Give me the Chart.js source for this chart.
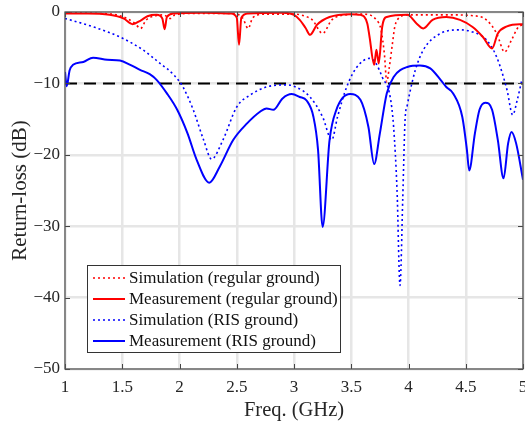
<!DOCTYPE html>
<html>
<head>
<meta charset="utf-8">
<script src="https://cdn.jsdelivr.net/npm/chart.js@4.4.0/dist/chart.umd.min.js"></script>
<style>
  html, body { margin: 0; padding: 0; background: #fff; }
  #wrap { width: 525px; height: 426px; }
</style>
</head>
<body>
<div id="wrap"><canvas id="grafico" width="525" height="426"></canvas></div>
<script>
// Simulation (regular ground)
const sRegF  = [1.0, 1.3, 1.45, 1.54, 1.61, 1.66, 1.71, 1.80, 1.86, 1.92, 1.96, 2.1, 2.45, 2.55, 2.60, 2.64, 2.75, 3.0, 3.10, 3.16, 3.25, 3.33, 3.45, 3.6, 3.72, 3.76, 3.79, 3.81, 3.83, 3.86, 3.88, 3.92, 4.0, 4.33, 4.55, 4.68, 4.77, 4.84, 4.90, 4.96, 5.0];
const sRegDb = [-0.1, -0.2, -0.4, -0.9, -1.6, -2.3, -1.1, -0.5, -0.4, -0.9, -0.4, -0.2, -0.2, -0.8, -2.3, -0.8, -0.3, -0.3, -0.6, -1.1, -3.0, -1.1, -0.4, -0.3, -1.1, -2.5, -6.0, -9.8, -8.0, -4.4, -2.1, -0.8, -0.4, -0.4, -0.5, -1.1, -3.0, -5.6, -3.9, -2.1, -1.8];

// Measurement (regular ground)
const mRegF  = [1.0, 1.2, 1.39, 1.51, 1.59, 1.66, 1.72, 1.80, 1.85, 1.87, 1.89, 1.95, 2.2, 2.45, 2.50, 2.52, 2.54, 2.60, 2.9, 3.0, 3.05, 3.10, 3.14, 3.20, 3.31, 3.49, 3.58, 3.64, 3.66, 3.70, 3.72, 3.74, 3.77, 3.81, 3.99, 4.07, 4.13, 4.21, 4.33, 4.45, 4.56, 4.65, 4.73, 4.78, 4.86, 4.97, 5.0];
const mRegDb = [-0.2, -0.2, -0.4, -0.9, -1.7, -1.2, -0.6, -0.4, -0.9, -2.4, -0.7, -0.2, -0.1, -0.2, -0.8, -4.6, -0.8, -0.2, -0.1, -0.4, -1.1, -2.2, -3.2, -1.8, -0.7, -0.3, -0.4, -1.6, -3.5, -7.4, -5.3, -7.2, -2.1, -0.7, -0.4, -1.6, -2.3, -1.1, -0.7, -1.1, -2.1, -3.5, -5.1, -3.0, -2.0, -1.7, -1.7];

// Simulation (RIS ground)
const sRisF  = [1.0, 1.25, 1.48, 1.68, 1.83, 1.95, 2.03, 2.12, 2.21, 2.28, 2.38, 2.50, 2.62, 2.76, 2.94, 3.0, 3.14, 3.25, 3.33, 3.38, 3.46, 3.55, 3.66, 3.72, 3.77, 3.84, 3.87, 3.90, 3.926, 3.95, 3.97, 3.99, 4.01, 4.06, 4.13, 4.28, 4.45, 4.56, 4.68, 4.77, 4.86, 4.91, 4.95, 4.99];
const sRisDb = [-0.9, -2.1, -3.5, -5.3, -7.2, -8.8, -10.5, -13.7, -17.9, -20.6, -17.9, -13.3, -11.6, -10.5, -10.2, -10.4, -11.9, -14.7, -17.9, -14.7, -10.5, -7.7, -6.5, -7.3, -9.1, -11.9, -16.1, -25.0, -38.3, -26.0, -15.1, -13.0, -11.4, -8.1, -5.3, -3.0, -2.5, -2.8, -3.9, -6.3, -10.9, -14.4, -12.3, -9.5];

// Measurement (RIS ground)
const mRisF  = [1.0, 1.015, 1.04, 1.07, 1.16, 1.245, 1.37, 1.48, 1.57, 1.655, 1.74, 1.80, 1.89, 1.98, 2.07, 2.15, 2.26, 2.35, 2.47, 2.59, 2.70, 2.76, 2.82, 2.90, 2.98, 3.05, 3.11, 3.17, 3.21, 3.25, 3.31, 3.37, 3.49, 3.58, 3.65, 3.70, 3.75, 3.81, 3.87, 3.99, 4.10, 4.19, 4.28, 4.33, 4.39, 4.47, 4.51, 4.53, 4.58, 4.62, 4.67, 4.73, 4.78, 4.83, 4.87, 4.90, 4.94, 5.0];
const mRisDb = [-8.4, -10.4, -8.2, -7.4, -7.0, -6.4, -6.7, -6.8, -7.4, -8.1, -8.7, -9.5, -11.4, -13.7, -17.0, -20.7, -23.9, -21.7, -17.9, -15.6, -14.0, -13.5, -13.7, -12.1, -11.5, -11.9, -12.4, -14.7, -19.3, -30.1, -18.0, -13.7, -11.5, -12.3, -16.1, -21.3, -17.0, -11.4, -9.1, -7.7, -7.5, -7.9, -9.5, -10.5, -11.4, -14.7, -19.3, -22.2, -17.0, -13.7, -12.7, -13.7, -17.9, -23.3, -18.4, -16.8, -18.4, -23.5];

// linha de -10 dB
const limiteF  = [1, 5];
const limiteDb = [-10, -10];

const xTicks = [1, 1.5, 2, 2.5, 3, 3.5, 4, 4.5, 5];
const yTicks = [0, -10, -20, -30, -40, -50];

Chart.defaults.font.family = "'Liberation Serif', 'Times New Roman', serif";
Chart.defaults.color = '#262626';

function pontos(f, db) {
    let out = [];
    for (let i = 0; i < f.length; i++) {
        out.push({ x: f[i], y: db[i] });
    }
    return out;
}

function serie(label, f, db, cor, pontilhado) {
    return {
        label: label,
        data: pontos(f, db),
        borderColor: cor,
        backgroundColor: cor,
        borderWidth: pontilhado ? 1.6 : 2,
        borderDash: pontilhado ? [2, 3] : [],
        pointRadius: 0,
        cubicInterpolationMode: 'monotone',
        fill: false
    };
}

// ticks pra dentro + moldura
const moldura = {
    id: 'moldura',
    afterDraw(chart) {
        const c = chart.ctx;
        const a = chart.chartArea;
        const sx = chart.scales.x;
        const sy = chart.scales.y;
        c.save();
        c.strokeStyle = '#444';
        c.lineWidth = 1;
        c.beginPath();
        xTicks.forEach(v => {
            const px = Math.round(sx.getPixelForValue(v)) + 0.5;
            c.moveTo(px, a.bottom); c.lineTo(px, a.bottom - 5);
            c.moveTo(px, a.top); c.lineTo(px, a.top + 5);
        });
        yTicks.forEach(v => {
            const py = Math.round(sy.getPixelForValue(v)) + 0.5;
            c.moveTo(a.left, py); c.lineTo(a.left + 5, py);
            c.moveTo(a.right, py); c.lineTo(a.right - 5, py);
        });
        c.stroke();
        c.strokeStyle = '#555';
        c.lineWidth = 1.3;
        c.strokeRect(a.left, a.top, a.right - a.left, a.bottom - a.top);
        c.restore();
    }
};

// legenda dentro do grafico
const legenda = {
    id: 'legenda',
    afterDraw(chart) {
        const c = chart.ctx;
        const a = chart.chartArea;
        const bx = a.left + 22, by = a.bottom - 104, bw = 253, bh = 87;
        c.save();
        c.fillStyle = '#fff';
        c.fillRect(bx, by, bw, bh);
        c.strokeStyle = '#333';
        c.lineWidth = 1;
        c.strokeRect(bx + 0.5, by + 0.5, bw, bh);
        c.font = "17px 'Liberation Serif', serif";
        c.textBaseline = 'middle';
        for (let i = 0; i < 4; i++) {
            const ds = chart.data.datasets[i];
            const yy = by + 13 + i * 21;
            c.strokeStyle = ds.borderColor;
            c.lineWidth = ds.borderWidth;
            c.setLineDash(ds.borderDash);
            c.beginPath();
            c.moveTo(bx + 6, yy);
            c.lineTo(bx + 38, yy);
            c.stroke();
            c.setLineDash([]);
            c.fillStyle = '#111';
            c.fillText(ds.label, bx + 42, yy + 1);
        }
        c.restore();
    }
};

const ctx = document.getElementById('grafico');
new Chart(ctx, {
    type: 'line',
    data: {
        datasets: [
            serie('Simulation (regular ground)', sRegF, sRegDb, '#ff0000', true),
            serie('Measurement (regular ground)', mRegF, mRegDb, '#ff0000', false),
            serie('Simulation (RIS ground)', sRisF, sRisDb, '#0000ff', true),
            serie('Measurement (RIS ground)', mRisF, mRisDb, '#0000ff', false),
            {
                label: 'limite',
                data: pontos(limiteF, limiteDb),
                borderColor: '#000',
                borderWidth: 2,
                borderDash: [12, 7],
                pointRadius: 0,
                fill: false
            }
        ]
    },
    options: {
        responsive: false,
        animation: false,
        layout: { padding: { top: 12, right: 2, left: 0, bottom: 0 } },
        plugins: {
            legend: { display: false },
            tooltip: { enabled: false }
        },
        scales: {
            x: {
                type: 'linear',
                min: 1,
                max: 5,
                afterBuildTicks: s => { s.ticks = xTicks.map(v => ({ value: v })); },
                afterFit: s => { s.height = 57; s.paddingLeft = 0; s.paddingRight = 0; },
                ticks: { font: { size: 17 }, padding: 8, maxRotation: 0, callback: v => String(v) },
                grid: { color: '#e6e6e6', lineWidth: 2.5, drawTicks: false },
                border: { display: false },
                title: { display: true, text: 'Freq. (GHz)', font: { size: 20.5 }, padding: { top: 0, bottom: 3 } }
            },
            y: {
                min: -50,
                max: 0,
                afterBuildTicks: s => { s.ticks = yTicks.map(v => ({ value: v })); },
                afterFit: s => { s.width = 65; s.paddingTop = 0; s.paddingBottom = 0; },
                ticks: { font: { size: 17 }, padding: 5, callback: v => String(v).replace('-', '\u2212') },
                grid: { color: '#e6e6e6', lineWidth: 2.5, drawTicks: false },
                border: { display: false },
                title: { display: true, text: 'Return-loss (dB)', font: { size: 21 }, padding: { top: 8, bottom: 0 } }
            }
        }
    },
    plugins: [moldura, legenda]
});
</script>
</body>
</html>
